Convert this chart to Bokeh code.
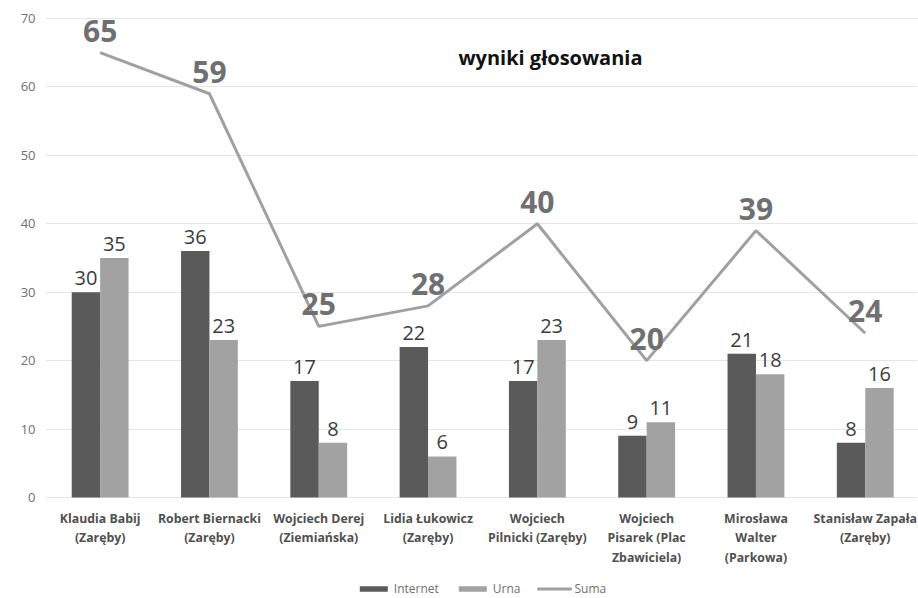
from bokeh.plotting import figure
from bokeh.models import ColumnDataSource, Legend, LegendItem, Label, FixedTicker, Range1d
from bokeh.transform import dodge
from bokeh.core.properties import value
from bokeh.embed import file_html
from bokeh.resources import INLINE

categories = [
    "Klaudia Babij\n(Zaręby)",
    "Robert Biernacki\n(Zaręby)",
    "Wojciech Derej\n(Ziemiańska)",
    "Lidia Łukowicz\n(Zaręby)",
    "Wojciech\nPilnicki (Zaręby)",
    "Wojciech\nPisarek (Plac\nZbawiciela)",
    "Mirosława\nWalter\n(Parkowa)",
    "Stanisław Zapała\n(Zaręby)",
]
internet = [30, 36, 17, 22, 17, 9, 21, 8]
urna = [35, 23, 8, 6, 23, 11, 18, 16]
suma = [65, 59, 25, 28, 40, 20, 39, 24]
y_ticks = [0, 10, 20, 30, 40, 50, 60, 70]
title_text = "wyniki głosowania"

xs = list(range(len(categories)))
src = ColumnDataSource(dict(
    x=xs, cat=categories, base=[0] * len(categories),
    internet=internet, urna=urna, suma=suma,
    internet_lbl=[str(v) for v in internet],
    urna_lbl=[str(v) for v in urna],
    suma_lbl=[str(v) for v in suma],
))

FONT = "Open Sans"
p = figure(frame_width=872, frame_height=590, output_backend="svg", toolbar_location=None,
           x_range=Range1d(-0.5, 7.478), y_range=Range1d(-14.77, 71.46),
           min_border_left=45, min_border_right=0, min_border_top=8,
           min_border_bottom=0)
p.outline_line_color = None
p.background_fill_color = "white"

off = 0.13
w = 0.26
r_int = p.vbar(x=dodge("x", -off, range=p.x_range), top="internet", width=w, source=src,
               fill_color="#5a5a5a", line_color=None)
r_urn = p.vbar(x=dodge("x", off, range=p.x_range), top="urna", width=w, source=src,
               fill_color="#a2a2a2", line_color=None)
r_sum = p.line(x="x", y="suma", source=src, line_color="#a0a0a0", line_width=3)

p.text(x=dodge("x", -off, range=p.x_range), y="internet", text="internet_lbl", source=src,
       text_align="center", text_baseline="bottom", y_offset=-7,
       text_font=value(FONT), text_font_size="20px", text_color="#3c3c3c")
p.text(x=dodge("x", off, range=p.x_range), y="urna", text="urna_lbl", source=src,
       text_align="center", text_baseline="bottom", y_offset=-7,
       text_font=value(FONT), text_font_size="20px", text_color="#3c3c3c")
p.text(x="x", y="suma", text="suma_lbl", source=src,
       text_align="center", text_baseline="bottom", y_offset=-11,
       text_font=value(FONT), text_font_size="30px", text_font_style="bold",
       text_color="#707070")

# category labels under the zero line
p.text(x="x", y="base", text="cat", source=src,
       text_align="center", text_baseline="top", y_offset=13,
       text_line_height=1.12,
       text_font=value(FONT), text_font_size="12.3px", text_font_style="bold",
       text_color="#505050")

p.add_layout(Label(x=4.12, y=64.3, text=title_text, text_align="center",
                   text_baseline="middle", text_font=FONT, text_font_size="20px",
                   text_font_style="bold", text_color="#111111"))

p.xaxis.visible = False
p.yaxis.ticker = FixedTicker(ticks=y_ticks)
ax = p.yaxis[0]
ax.axis_line_color = None
ax.major_tick_line_color = None
ax.minor_tick_line_color = None
ax.major_tick_out = 0
ax.major_tick_in = 0
ax.major_label_text_font = FONT
ax.major_label_text_font_size = "13px"
ax.major_label_text_color = "#707070"
ax.major_label_standoff = 10
p.xgrid.grid_line_color = None
p.ygrid.grid_line_color = "#e6e6e6"
p.ygrid.ticker = FixedTicker(ticks=y_ticks)

legend = Legend(items=[
    LegendItem(label="Internet", renderers=[r_int]),
    LegendItem(label="Urna", renderers=[r_urn]),
    LegendItem(label="Suma", renderers=[r_sum]),
], orientation="horizontal", location="bottom_center")
legend.label_text_font = FONT
legend.label_text_font_size = "12px"
legend.label_text_color = "#707070"
legend.glyph_width = 35
legend.glyph_height = 7
legend.label_standoff = 3
legend.spacing = 16
legend.border_line_color = None
legend.background_fill_alpha = 0
legend.padding = 0
legend.margin = 1
p.add_layout(legend)

open("out.html", "w").write(file_html(p, INLINE))
